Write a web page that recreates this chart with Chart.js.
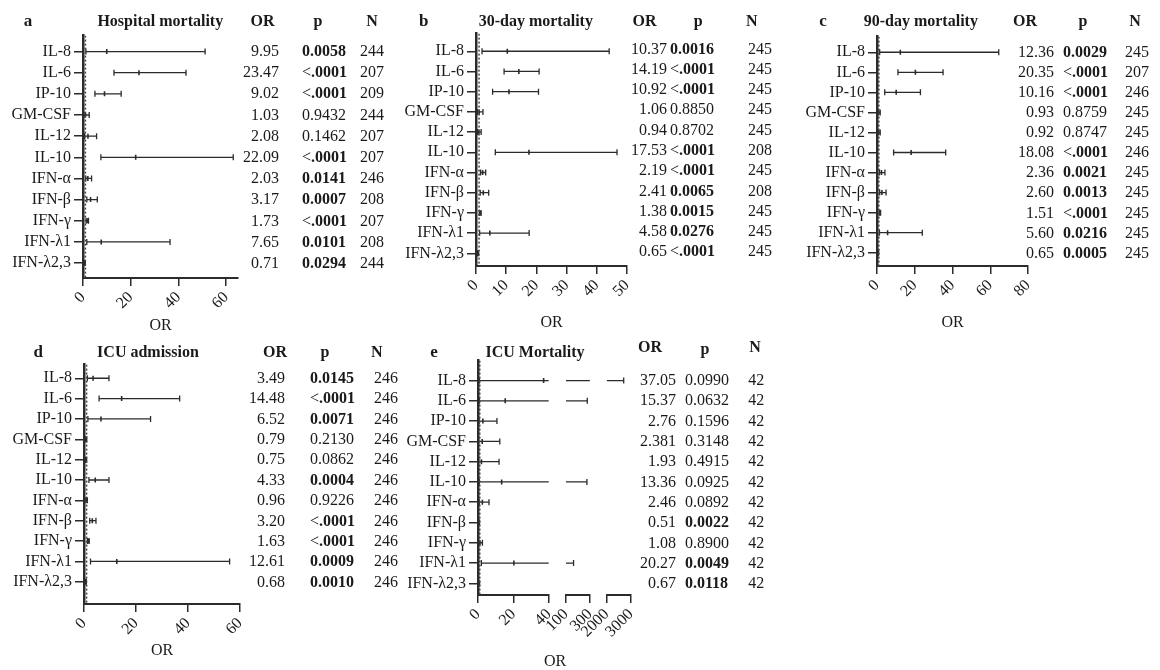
<!DOCTYPE html>
<html><head><meta charset="utf-8">
<script src="https://cdn.jsdelivr.net/npm/chart.js@4.4.1/dist/chart.umd.min.js"></script>
<style>
html,body{margin:0;padding:0;background:#fff;}
#root{position:relative;width:1160px;height:670px;overflow:hidden;background:#fff;font-family:'Liberation Serif','Times New Roman',serif;color:#1a1a1a;}
canvas{position:absolute;}
.t{position:absolute;white-space:nowrap;line-height:1;}
.t b{font-weight:bold;}
</style></head><body><div id="root"></div>
<script>
// ---------------- DATA ----------------
const cytokines = ['IL-8','IL-6','IP-10','GM-CSF','IL-12','IL-10','IFN-α','IFN-β','IFN-γ','IFN-λ1','IFN-λ2,3'];
const refOR = 1;

// a: Hospital mortality
const orA = [9.95,23.47,9.02,1.03,2.08,22.09,2.03,3.17,1.73,7.65,0.71];
const loA = [1.2,13.0,5.0,0.4,0.7,7.5,1.15,1.6,1.3,1.6,0.5];
const hiA = [51.2,43.2,16.0,2.6,5.7,63.0,3.6,6.0,2.3,36.5,0.95];
const pA  = ['0.0058','<.0001','<.0001','0.9432','0.1462','<.0001','0.0141','0.0007','<.0001','0.0101','0.0294'];
const nA  = [244,207,209,244,207,207,246,208,207,208,244];
const xTicksA = [0,20,40,60];

// b: 30-day mortality
const orB = [10.37,14.19,10.92,1.06,0.94,17.53,2.19,2.41,1.38,4.58,0.65];
const loB = [2.0,9.3,5.5,0.5,0.5,6.4,1.5,1.4,1.1,1.2,0.5];
const hiB = [44.1,20.9,20.7,2.3,1.7,46.7,3.2,4.2,1.7,17.6,0.85];
const pB  = ['0.0016','<.0001','<.0001','0.8850','0.8702','<.0001','<.0001','0.0065','0.0015','0.0276','<.0001'];
const nB  = [245,245,245,245,245,208,245,208,245,245,245];
const xTicksB = [0,10,20,30,40,50];

// c: 90-day mortality
const orC = [12.36,20.35,10.16,0.93,0.92,18.08,2.36,2.60,1.51,5.60,0.65];
const loC = [1.4,11.1,4.1,0.5,0.5,8.8,1.3,1.4,1.2,1.3,0.5];
const hiC = [64.5,35.0,23.0,1.7,1.7,36.4,4.2,4.8,1.9,24.0,0.85];
const pC  = ['0.0029','<.0001','<.0001','0.8759','0.8747','<.0001','0.0021','0.0013','<.0001','0.0216','0.0005'];
const nC  = [245,207,246,245,245,246,245,245,245,245,245];
const xTicksC = [0,20,40,60,80];

// d: ICU admission
const orD = [3.49,14.48,6.52,0.79,0.75,4.33,0.96,3.20,1.63,12.61,0.68];
const loD = [1.3,5.8,1.5,0.6,0.55,1.9,0.7,2.2,1.3,2.5,0.5];
const hiD = [9.6,36.8,25.6,1.05,1.0,9.6,1.3,4.6,2.0,56.0,0.9];
const pD  = ['0.0145','<.0001','0.0071','0.2130','0.0862','0.0004','0.9226','<.0001','<.0001','0.0009','0.0010'];
const nD  = [246,246,246,246,246,246,246,246,246,246,246];
const xTicksD = [0,20,40,60];

// e: ICU Mortality (broken axis)
const orE = [37.05,15.37,2.76,2.381,1.93,13.36,2.46,0.51,1.08,20.27,0.67];
const loE = [0.8,0.8,0.6,0.3,0.3,0.7,0.7,0.3,0.4,1.9,0.2];
const hiE = [2700,278,10.7,12.3,11.9,275,6.2,0.85,2.5,164,0.9];
const pE  = ['0.0990','0.0632','0.1596','0.3148','0.4915','0.0925','0.0892','0.0022','0.8900','0.0049','0.0118'];
const nE  = [42,42,42,42,42,42,42,42,42,42,42];
const xTicksE1 = [0,20,40];
const xTicksE2 = [100,300];
const xTicksE3 = [2000,3000];

// ---------------- LAYOUT / STYLE ----------------
const FAM = "'Liberation Serif','Times New Roman',serif";
const C = '#2b2b2b';
const TXT = '#1a1a1a';
const W = 100, PT = 12, PR = 24;
const root = document.getElementById('root');

const panels = [
  { letter:'a', title:'Hospital mortality', d:{or:orA,lo:loA,hi:hiA,p:pA,n:nA},
    g:{x0:83,right:238,top:35,bottom:278,rowY0:51,rowDy:21.2,axisTitleY:325},
    segs:[{id:'x',min:0,max:65,ticks:xTicksA,weight:1,title:'OR'}],
    t:{hdrY:20.7,letterX:28,titleX:160.3,hOR:262.5,hP:318,hN:372,orR:279,pL:302,nL:360} },
  { letter:'b', title:'30-day mortality', d:{or:orB,lo:loB,hi:hiB,p:pB,n:nB},
    g:{x0:476,right:627,top:33,bottom:266,rowY0:50.7,rowDy:20.26,axisTitleY:322},
    segs:[{id:'x',min:0,max:50,ticks:xTicksB,weight:1,title:'OR'}],
    t:{hdrY:20.7,letterX:423.8,titleX:535.8,hOR:644.5,hP:698.3,hN:751.7,orR:667,pL:670,nL:748,rowShift:-2} },
  { letter:'c', title:'90-day mortality', d:{or:orC,lo:loC,hi:hiC,p:pC,n:nC},
    g:{x0:877,right:1028,top:36,bottom:266,rowY0:51.7,rowDy:20.1,axisTitleY:322},
    segs:[{id:'x',min:0,max:80,ticks:xTicksC,weight:1,title:'OR'}],
    t:{hdrY:20.7,letterX:823,titleX:920.8,hOR:1025,hP:1083,hN:1135,orR:1054,pL:1063,nL:1125} },
  { letter:'d', title:'ICU admission', d:{or:orD,lo:loD,hi:hiD,p:pD,n:nD},
    g:{x0:84,right:240,top:364,bottom:604,rowY0:377.7,rowDy:20.4,axisTitleY:650},
    segs:[{id:'x',min:0,max:60,ticks:xTicksD,weight:1,title:'OR'}],
    t:{hdrY:351.7,letterX:38.3,titleX:148,hOR:275,hP:325,hN:376.7,orR:285,pL:310,nL:374} },
  { letter:'e', title:'ICU Mortality', d:{or:orE,lo:loE,hi:hiE,p:pE,n:nE},
    g:{x0:478,right:631,top:360,bottom:595,rowY0:380,rowDy:20.33,axisTitleY:660.7},
    segs:[{id:'x1',min:0,max:40,ticks:xTicksE1,weight:70.7},
          {id:'g1',gap:true,min:40,max:100,ticks:[],weight:17},
          {id:'x2',min:100,max:300,ticks:xTicksE2,weight:24},
          {id:'g2',gap:true,min:300,max:2000,ticks:[],weight:16.7},
          {id:'x3',min:2000,max:3000,ticks:xTicksE3,weight:24.3}],
    axisTitleX:555,
    t:{hdrY:346.7,hdrPY:349,titleY:351.7,letterX:434,titleX:535,hOR:650,hP:705,hN:755,orR:676,pL:685,nL:748.3} }
];

function fmtOR(v){ const s=String(v); const dec=(s.split('.')[1]||'').length; return v.toFixed(Math.max(2,dec)); }
function isSig(p){ return p.startsWith('<') || parseFloat(p) < 0.05; }

function txt(s, x, y, align, bold, size){
  const el = document.createElement('div');
  el.className = 't';
  el.textContent = s;
  const tx = align==='right' ? '-100%' : align==='center' ? '-50%' : '0';
  el.style.left = x+'px'; el.style.top = y+'px';
  el.style.transform = `translate(${tx},-50%)`;
  el.style.font = `${bold?'bold ':''}${size||16}px ${FAM}`;
  el.style.color = TXT;
  root.appendChild(el);
  return el;
}
function pText(p, x, y){
  const el = txt('', x, y, 'left', false, 16);
  if (p.startsWith('<')) {
    el.appendChild(document.createTextNode('<'));
    const b = document.createElement('b'); b.textContent = p.slice(1); el.appendChild(b);
  } else if (isSig(p)) {
    const b = document.createElement('b'); b.textContent = p; el.appendChild(b);
  } else {
    el.textContent = p;
  }
}

function makePanel(P){
  const g = P.g, d = P.d;
  const XH = Math.round(g.axisTitleY + 13.6 - g.bottom);
  const cw = Math.round(g.right - g.x0) + W + PR;
  const ch = PT + Math.round(g.bottom - g.top) + XH;
  const cv = document.createElement('canvas');
  cv.width = cw; cv.height = ch;
  cv.style.width = cw+'px'; cv.style.height = ch+'px';
  cv.style.left = (Math.round(g.x0) - W)+'px';
  cv.style.top = (Math.round(g.top) - PT)+'px';
  root.appendChild(cv);

  const yMin = (g.top - g.rowY0)/g.rowDy, yMax = (g.bottom - g.rowY0)/g.rowDy;
  const realSegs = P.segs.filter(s=>!s.gap);
  const first = realSegs[0];
  const ds = [];
  ds.push({ data:[{x:refOR,y:yMin},{x:refOR,y:yMax}], xAxisID:first.id, yAxisID:'y', showLine:true,
            borderDash:[2,2], borderWidth:1.5, borderColor:'#444', pointRadius:0 });
  d.or.forEach((v,i)=>{
    realSegs.forEach(s=>{
      const a = Math.max(d.lo[i], s.min), b = Math.min(d.hi[i], s.max);
      if (a < b) ds.push({ data:[{x:a,y:i},{x:b,y:i}], xAxisID:s.id, yAxisID:'y', showLine:true,
        borderWidth:1.3, borderColor:C, pointStyle:'line', pointRotation:90,
        pointRadius:[d.lo[i]>=s.min?3:0, d.hi[i]<=s.max?3:0], pointBorderWidth:1.3, pointBorderColor:C, pointHoverRadius:0 });
    });
  });
  ds.push({ data:d.or.map((v,i)=>({x:v,y:i})), xAxisID:first.id, yAxisID:'y', showLine:false,
            pointStyle:'line', pointRotation:90, pointRadius:2.5, pointBorderWidth:1.6, pointBorderColor:C, pointHoverRadius:0 });

  const font = {family:FAM, size:16};
  const scales = {
    y: { type:'linear', reverse:true, min:yMin, max:yMax,
      afterBuildTicks: s => { s.ticks = cytokines.map((_,i)=>({value:i})); },
      afterFit: s => { s.width = W; },
      ticks: { callback: v => cytokines[v], font, color:TXT, padding:3, autoSkip:false },
      grid: { display:true, drawOnChartArea:false, drawTicks:true, tickLength:9, color:C, lineWidth:1.5 },
      border: { display:true, color:C, width:2.5 } }
  };
  P.segs.forEach(s=>{
    scales[s.id] = { type:'linear', position:'bottom', min:s.min, max:s.max, stack:'xs', stackWeight:s.weight,
      afterBuildTicks: sc => { sc.ticks = s.ticks.map(v=>({value:v})); },
      afterFit: sc => { sc.height = XH; },
      ticks: { display: s.ticks.length>0, minRotation:45, maxRotation:45, autoSkip:false, font, color:TXT, padding:2,
               callback: v => String(v) },
      grid: { display: s.ticks.length>0, drawOnChartArea:false, drawTicks:true, tickLength:8, color:C, lineWidth:1.5 },
      border: { display: !s.gap, color:C, width:2 },
      title: { display: !!s.title, text: s.title||'', font, color:TXT, padding:{top:4,bottom:4} } };
  });

  new Chart(cv, {
    type:'scatter',
    data:{ datasets: ds },
    options:{
      responsive:false, animation:false, devicePixelRatio:1, events:[],
      layout:{ padding:{top:PT, right:PR, left:0, bottom:0} },
      plugins:{ legend:{display:false}, tooltip:{enabled:false} },
      scales
    }
  });

  // axis title drawn as text when the axis is broken
  if (P.axisTitleX) txt('OR', P.axisTitleX, g.axisTitleY, 'center', false, 16);

  // text table
  const t = P.t;
  txt(P.letter, t.letterX, t.titleY||t.hdrY, 'center', true, 17);
  txt(P.title, t.titleX, t.titleY||t.hdrY, 'center', true, 16);
  txt('OR', t.hOR, t.hdrY, 'center', true, 16);
  txt('p', t.hP, t.hdrPY||t.hdrY, 'center', true, 16);
  txt('N', t.hN, t.hdrY, 'center', true, 16);
  d.or.forEach((v,i)=>{
    const y = g.rowY0 + i*g.rowDy + (t.rowShift||0);
    txt(fmtOR(v), t.orR, y, 'right', false, 16);
    pText(d.p[i], t.pL, y);
    txt(String(d.n[i]), t.nL, y, 'left', false, 16);
  });
}

panels.forEach(makePanel);
</script>
</body></html>
